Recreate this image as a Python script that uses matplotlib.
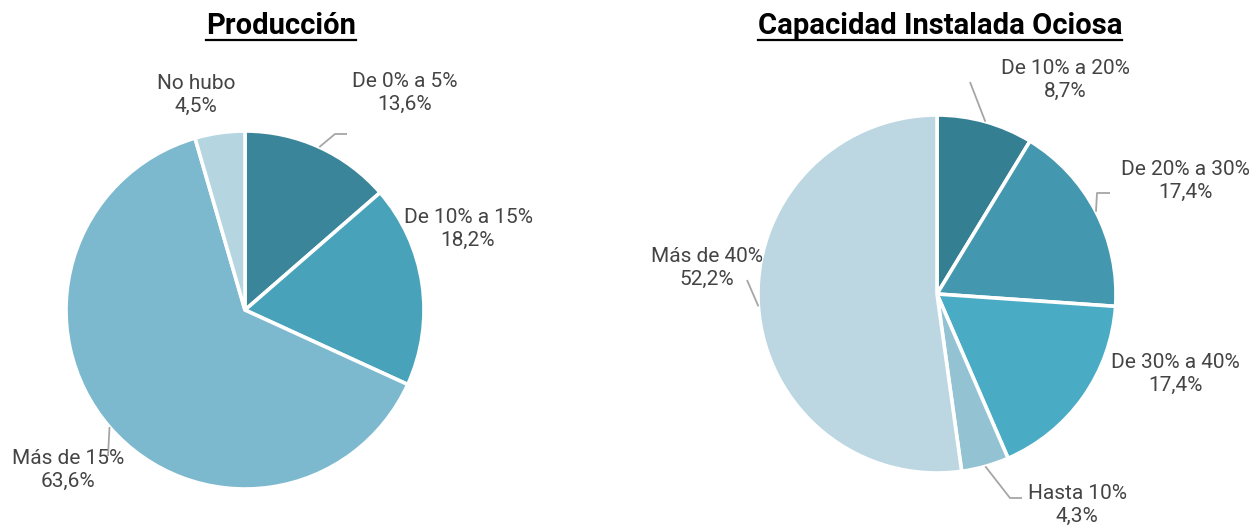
import numpy as np
import matplotlib.pyplot as plt
from matplotlib.lines import Line2D

plt.rcParams['font.family'] = ['Roboto', 'DejaVu Sans']

# Producción
prod_labels = ['De 0% a 5%', 'De 10% a 15%', 'Más de 15%', 'No hubo']
prod_values = [13.6, 18.2, 63.6, 4.5]
prod_colors = ['#3a8599', '#48a2ba', '#7db9ce', '#b5d5e0']

# Capacidad Instalada Ociosa
cap_labels = ['De 10% a 20%', 'De 20% a 30%', 'De 30% a 40%', 'Hasta 10%', 'Más de 40%']
cap_values = [8.7, 17.4, 17.4, 4.3, 52.2]
cap_colors = ['#357f93', '#4397ae', '#4aabc5', '#93c3d3', '#bcd7e2']

W, H = 1253, 528
fig = plt.figure(figsize=(W / 100, H / 100), dpi=100)
R = 179.0  # pie radius in pixels


def set_frame(ax, x0, x1, cx, cy):
    # 1 data unit = R pixels, axes spans pixel columns x0..x1 and full height
    ax.set_aspect('auto')
    ax.set_xlim((x0 - cx) / R, (x1 - cx) / R)
    ax.set_ylim((cy - H) / R, cy / R)
    ax.axis('off')


def px(ax_c, p):
    # pixel position -> data coords of an axes with centre ax_c
    return (p[0] - ax_c[0]) / R, (ax_c[1] - p[1]) / R


def mid_angle(values, i):
    cum = sum(values[:i]) + values[i] / 2
    return np.deg2rad(90 - cum / sum(values) * 360)


def draw_pie(x0, x1, values, labels, colors, centre, label_pos, leaders):
    ax = fig.add_axes([x0 / W, 0, (x1 - x0) / W, 1])
    ax.pie(values, colors=colors, startangle=90, counterclock=False, radius=1,
           wedgeprops=dict(edgecolor='white', linewidth=2.6))
    for i, (lab, v) in enumerate(zip(labels, values)):
        x, y = px(centre, label_pos[i])
        ax.text(x, y, f"{lab}\n{v:.1f}%".replace('.', ','), ha='center', va='center',
                fontsize=15, color='#444444', linespacing=1.25)
        if leaders[i] is not None:
            a = mid_angle(values, i)
            pts = [(np.cos(a), np.sin(a))] + [px(centre, p) for p in leaders[i]]
            xs, ys = zip(*pts)
            ax.plot(xs, ys, color='#a6a6a6', lw=1.3, solid_capstyle='butt')
    set_frame(ax, x0, x1, *centre)
    return ax


left_c = (245, 310)
ax1 = draw_pie(0, 626, prod_values, prod_labels, prod_colors, left_c,
               [(405, 93), (468, 229), (68, 470), (196, 95)],
               [[(335, 134), (347, 134)], None, [(108, 456)], None])

right_c = (937, 294)
ax2 = draw_pie(626, 1253, cap_values, cap_labels, cap_colors, right_c,
               [(1065, 80), (1185, 181), (1175, 374), (1077, 505), (707, 268)],
               [[(970, 82)], [(1097, 193), (1110, 193)], None,
                [(1010, 498), (1022, 498)], [(747, 280)]])

# titles, underlined
fig.canvas.draw()
renderer = fig.canvas.get_renderer()
for cx, title in [(281, 'Producción'), (940, 'Capacidad Instalada Ociosa')]:
    t = fig.text(cx / W, 1 - 26 / H, title, ha='center', va='center',
                 fontsize=21, fontweight='bold', color='black')
    bb = t.get_window_extent(renderer)
    fig.add_artist(Line2D([bb.x0 / W, bb.x1 / W], [1 - 40 / H, 1 - 40 / H],
                          color='black', lw=1.6, transform=fig.transFigure))

fig.savefig('out.png', dpi=100)
